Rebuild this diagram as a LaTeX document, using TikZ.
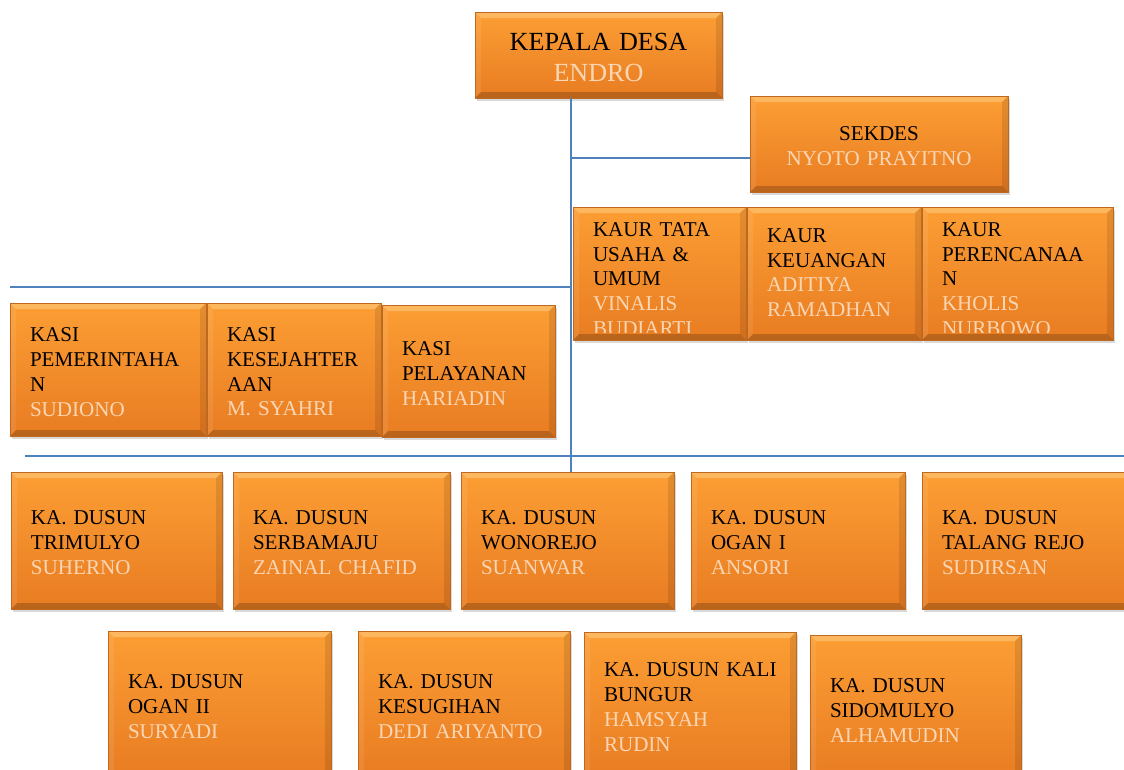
\documentclass[tikz,border=0pt]{standalone}
\usepackage{fontspec}
\setmainfont{Liberation Serif}
\usetikzlibrary{shadows}

\definecolor{oranyeatas}{RGB}{252,158,52}
\definecolor{oranyebawah}{RGB}{232,124,34}
\definecolor{tepikotak}{RGB}{190,104,32}
\definecolor{kilapkotak}{RGB}{255,205,130}
\definecolor{namaoranye}{RGB}{250,214,180}
\definecolor{birugaris}{RGB}{79,129,189}

\newcommand{\namapejabat}[1]{\textcolor{namaoranye}{#1}}
\newcommand{\bevelkotak}{%
  \fill[kilapkotak, opacity=0.55] (path picture bounding box.north west) -- (path picture bounding box.north east)
    -- ([shift={(-4.5pt,-4.5pt)}]path picture bounding box.north east) -- ([shift={(4.5pt,-4.5pt)}]path picture bounding box.north west) -- cycle;
  \fill[black, opacity=0.2] (path picture bounding box.south west) -- (path picture bounding box.south east)
    -- ([shift={(-4.5pt,4.5pt)}]path picture bounding box.south east) -- ([shift={(4.5pt,4.5pt)}]path picture bounding box.south west) -- cycle;
  \fill[white, opacity=0.08] (path picture bounding box.north west) -- ([shift={(4.5pt,-4.5pt)}]path picture bounding box.north west)
    -- ([shift={(4.5pt,4.5pt)}]path picture bounding box.south west) -- (path picture bounding box.south west) -- cycle;
  \fill[black, opacity=0.1] (path picture bounding box.north east) -- ([shift={(-4.5pt,-4.5pt)}]path picture bounding box.north east)
    -- ([shift={(-4.5pt,4.5pt)}]path picture bounding box.south east) -- (path picture bounding box.south east) -- cycle;
}

\begin{document}
\begin{tikzpicture}[
    x=0.75pt, y=-0.75pt,
    kotak/.style={draw=tepikotak, line width=0.4pt, top color=oranyeatas, bottom color=oranyebawah,
        drop shadow={opacity=0.3, shadow xshift=1.5pt, shadow yshift=-2.5pt},
        path picture={\bevelkotak}, inner xsep=15pt, inner ysep=0pt, align=left, text height=13.8pt,
        font=\fontsize{15.8}{18.7}\selectfont},
    isi/.style={inner xsep=15pt, inner ysep=0pt, align=left, font=\fontsize{15.8}{18.4}\selectfont},
    garis/.style={draw=birugaris, line width=1.1pt}
]
\useasboundingbox (0,0) rectangle (1124,769);

\node[kotak, minimum width=185.25pt, minimum height=64.5pt, text width=155.25pt, align=center,
      font=\fontsize{19.6}{23.5}\selectfont, text height=16.5pt] (kades) at (598.5,55) {KEPALA DESA\\\namapejabat{ENDRO}};
\node[kotak, minimum width=193.5pt, minimum height=72pt, text width=163.5pt, align=center] (sekdes) at (879,144)
      {SEKDES\\\namapejabat{NYOTO PRAYITNO}};

% kaur
\node[kotak, minimum width=129.75pt, minimum height=99.75pt] (kaurA) at (659.5,273.5) {};
\node[kotak, minimum width=130.5pt, minimum height=99.75pt] (kaurB) at (834,273.5) {};
\node[kotak, minimum width=143.25pt, minimum height=99.75pt] (kaurC) at (1017.5,273.5) {};
\begin{scope}
\clip ([yshift=-3pt]kaurA.north west) rectangle ([yshift=6pt]kaurC.south east);
\node[isi, text width=99.75pt, anchor=north] (kaurAisi) at ([yshift=-12pt]kaurA.north)
      {KAUR TATA\\USAHA \&\\UMUM\\\namapejabat{VINALIS}\\\namapejabat{BUDIARTI}};
\node[isi, text width=100.5pt, anchor=north] (kaurBisi) at ([yshift=-16.5pt]kaurB.north)
      {KAUR\\KEUANGAN\\\namapejabat{ADITIYA}\\\namapejabat{RAMADHAN}};
\node[isi, text width=113.25pt, anchor=north] (kaurCisi) at ([yshift=-12pt]kaurC.north)
      {KAUR\\PERENCANAA\\N\\\namapejabat{KHOLIS}\\\namapejabat{NURBOWO}};
\end{scope}

% kasi
\node[kotak, minimum width=147pt, minimum height=99.75pt, text width=117pt] (kasiA) at (108,369.5)
      {KASI\\PEMERINTAHA\\N\\\namapejabat{SUDIONO}};
\node[kotak, minimum width=130.5pt, minimum height=99.75pt, text width=100.5pt] (kasiB) at (294,369.5)
      {KASI\\KESEJAHTER\\AAN\\\namapejabat{M. SYAHRI}};
\node[kotak, minimum width=129.75pt, minimum height=99pt, text width=99.75pt] (kasiC) at (468.5,371)
      {KASI\\PELAYANAN\\\namapejabat{HARIADIN}};

% dusun baris 1
\node[kotak, minimum width=158.25pt, minimum height=102.75pt, text width=128.25pt] (dusunA) at (116.5,540.5)
      {KA. DUSUN\\TRIMULYO\\\namapejabat{SUHERNO}};
\node[kotak, minimum width=162.75pt, minimum height=102.75pt, text width=132.75pt] (dusunB) at (341.5,540.5)
      {KA. DUSUN\\SERBAMAJU\\\namapejabat{ZAINAL CHAFID}};
\node[kotak, minimum width=159.75pt, minimum height=102.75pt, text width=129.75pt] (dusunC) at (567.5,540.5)
      {KA. DUSUN\\WONOREJO\\\namapejabat{SUANWAR}};
\node[kotak, minimum width=160.5pt, minimum height=102.75pt, text width=130.5pt] (dusunD) at (798,540.5)
      {KA. DUSUN\\OGAN I\\\namapejabat{ANSORI}};
\node[kotak, minimum width=159.75pt, minimum height=102.75pt, text width=129.75pt] (dusunE) at (1028.5,540.5)
      {KA. DUSUN\\TALANG REJO\\\namapejabat{SUDIRSAN}};

% dusun baris 2
\node[kotak, minimum width=167.25pt, minimum height=109.5pt, text width=137.25pt] (dusunF) at (219.5,704)
      {KA. DUSUN\\OGAN II\\\namapejabat{SURYADI}};
\node[kotak, minimum width=159pt, minimum height=109.5pt, text width=129pt] (dusunG) at (464,704)
      {KA. DUSUN\\KESUGIHAN\\\namapejabat{DEDI ARIYANTO}};
\node[kotak, minimum width=159pt, minimum height=109.5pt, text width=129pt] (dusunH) at (690,705)
      {\mbox{KA. DUSUN KALI}\\BUNGUR\\\namapejabat{HAMSYAH}\\\namapejabat{RUDIN}};
\node[kotak, minimum width=158.25pt, minimum height=109.5pt, text width=128.25pt] (dusunI) at (915.5,708)
      {KA. DUSUN\\SIDOMULYO\\\namapejabat{ALHAMUDIN}};

% garis
\coordinate (poros) at (571,0);
\coordinate (cabangSekdes) at (571,158);
\coordinate (cabangKasi) at (571,287);
\coordinate (garisDusunKiri) at (25,456);
\coordinate (garisDusunKanan) at (1124,456);
\draw[garis] (kades.south -| poros) -- (dusunC.north -| poros);
\draw[garis] (cabangSekdes) -- (cabangSekdes -| sekdes.west);
\draw[garis] (cabangKasi) -- (cabangKasi -| kasiA.west);
\draw[garis] (garisDusunKiri) -- (garisDusunKanan);
\end{tikzpicture}
\end{document}
